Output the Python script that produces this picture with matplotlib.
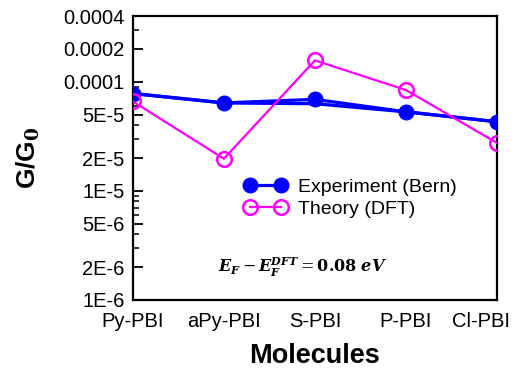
import matplotlib
matplotlib.use("Agg")
import matplotlib.pyplot as plt
from matplotlib.ticker import FixedLocator, FixedFormatter, NullFormatter
from matplotlib.transforms import ScaledTranslation

plt.rcParams['font.family'] = ['Liberation Sans', 'DejaVu Sans']
plt.rcParams['mathtext.fontset'] = 'dejavuserif'

molecules = ["Py-PBI", "aPy-PBI", "S-PBI", "P-PBI", "Cl-PBI"]
experiment = [7.8e-5, 6.4e-5, 6.9e-5, 5.3e-5, 4.3e-5]
experiment_alt = [7.8e-5, 6.4e-5, 6.3e-5, 5.3e-5, 4.3e-5]
theory = [6.6e-5, 1.97e-5, 1.57e-4, 8.4e-5, 2.75e-5]

major_vals = [1e-6, 2e-6, 5e-6, 1e-5, 2e-5, 5e-5, 1e-4, 2e-4, 4e-4]
major_labels = ["1E-6", "2E-6", "5E-6", "1E-5", "2E-5", "5E-5", "0.0001", "0.0002", "0.0004"]
minor_vals = [3e-6, 4e-6, 6e-6, 7e-6, 8e-6, 9e-6, 3e-5, 4e-5, 6e-5, 7e-5, 8e-5, 9e-5, 3e-4]

fig = plt.figure(figsize=(5.15, 3.74), dpi=100)
ax = fig.add_axes([0.258, 0.198, 0.707, 0.759])

x = list(range(len(molecules)))
ax.plot(x, experiment_alt, color='#0000ff', lw=2.4, zorder=3)
ax.plot(x, experiment, color='#0000ff', lw=2.3, marker='o', ms=10.5,
        markerfacecolor='#0000ff', markeredgecolor='#0000ff', label='Experiment (Bern)', zorder=4)
ax.plot(x, theory, color='#ff00ff', lw=1.6, marker='o', ms=10.5,
        markerfacecolor='none', markeredgecolor='#ff00ff', markeredgewidth=1.8,
        label='Theory (DFT)', zorder=5)

ax.set_yscale('log')
ax.set_ylim(1e-6, 4e-4)
ax.set_xlim(0, 4)
ax.yaxis.set_major_locator(FixedLocator(major_vals))
ax.yaxis.set_major_formatter(FixedFormatter(major_labels))
ax.yaxis.set_minor_locator(FixedLocator(minor_vals))
ax.yaxis.set_minor_formatter(NullFormatter())
ax.tick_params(axis='y', which='major', direction='in', length=7, width=1.3,
               labelsize=14.5, pad=6, right=False)
ax.tick_params(axis='y', which='minor', direction='in', length=4.5, width=1.1, right=False)

ax.set_xticks(x)
ax.set_xticklabels(molecules)
ax.tick_params(axis='x', length=0, labelsize=14.5, pad=9)
lab = ax.get_xticklabels()[-1]
lab.set_transform(lab.get_transform() + ScaledTranslation(-0.16, 0, fig.dpi_scale_trans))

for s in ax.spines.values():
    s.set_linewidth(1.6)

ax.set_ylabel(r'G/G$_\mathbf{0}$', fontsize=19, fontweight='bold', labelpad=15)
ax.set_xlabel('Molecules', fontsize=19.5, fontweight='bold', labelpad=8)

leg = ax.legend(loc='upper left', bbox_to_anchor=(0.283, 0.455), frameon=False,
                fontsize=14, numpoints=2, handlelength=2.2, handletextpad=0.6,
                labelspacing=0.2, borderaxespad=0)

ax.text(0.235, 0.115,
        r'$\mathbfit{E_F} - \mathbfit{E_F^{DFT}} = \mathbf{0.08}\ \mathbfit{eV}$',
        transform=ax.transAxes, fontsize=11.5, ha='left', va='center')

fig.savefig('out.png', dpi=100)
